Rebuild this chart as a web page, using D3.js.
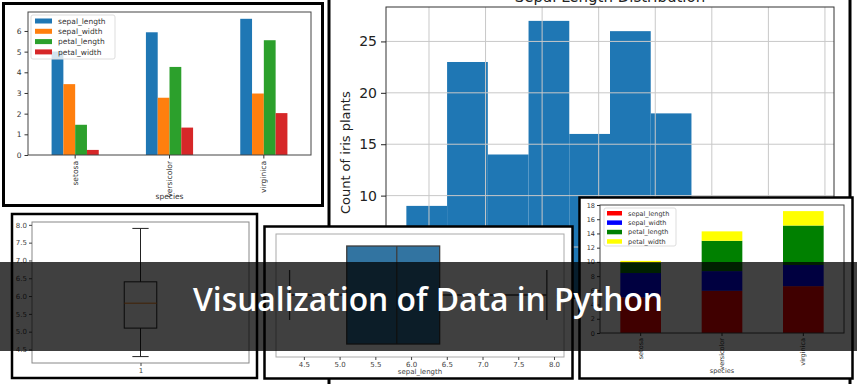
<!DOCTYPE html>
<html><head><meta charset="utf-8">
<script src="https://cdn.jsdelivr.net/npm/d3@7/dist/d3.min.js"></script>
<style>html,body{margin:0;padding:0;background:#fff;}svg{display:block;}</style>
</head><body>
<svg id="c" width="857" height="384"></svg>
<script>
// ---------- data ----------
const species = ["setosa", "versicolor", "virginica"];
const features = ["sepal_length", "sepal_width", "petal_length", "petal_width"];
const sepalLength = [5.006, 5.936, 6.588];
const sepalWidth = [3.428, 2.770, 2.974];
const petalLength = [1.462, 4.260, 5.552];
const petalWidth = [0.246, 1.326, 2.026];
const groupedTicks = [0, 1, 2, 3, 4, 5, 6];

const histTitle = "Sepal Length Distribution";
const histYLabel = "Count of iris plants";
const histEdges = [4.3, 4.66, 5.02, 5.38, 5.74, 6.1, 6.46, 6.82, 7.18, 7.54, 7.9];
const histCounts = [9, 23, 14, 27, 16, 26, 18, 6, 5, 6];
const histYTicks = [0, 5, 10, 15, 20, 25];
const histXTicks = [4.5, 5.0, 5.5, 6.0, 6.5, 7.0, 7.5, 8.0];

const boxStats = [4.3, 5.1, 5.8, 6.4, 7.9]; // min, q1, median, q3, max of sepal_length
const boxTicks = ["4.5", "5.0", "5.5", "6.0", "6.5", "7.0", "7.5", "8.0"];
const boxXLabel = "sepal_length";

const stackTicks = [0, 2, 4, 6, 8, 10, 12, 14, 16, 18];
const bannerText = "Visualization of Data in Python";

const tabColors = ["#1f77b4", "#ff7f0e", "#2ca02c", "#d62728"];
const stackColors = ["#ff0000", "#0000ff", "#008000", "#ffff00"];
const seriesValues = [sepalLength, sepalWidth, petalLength, petalWidth];

const svg = d3.select("#c");
const FONT = "DejaVu Sans, sans-serif";

function frame(x, y, w, h, sw) {
  svg.append("rect").attr("x", x).attr("y", y).attr("width", w).attr("height", h)
    .attr("fill", "#fff").attr("stroke", "#000").attr("stroke-width", sw);
}
function styleAxis(g, fs, col, dom) {
  g.selectAll("text").attr("font-family", FONT).attr("font-size", fs).attr("fill", col);
  g.selectAll("line").attr("stroke", col);
  if (!dom) g.select(".domain").remove();
}

// ---------- Panel 2: histogram (back) ----------
(function () {
  const L = 386, R = 834, T = 7, B = 298.4;
  frame(329, -10, 521, 400, 3);
  const x = d3.scaleLinear().domain([4.12, 8.08]).range([L, R]);
  const y = d3.scaleLinear().domain([0, 28.35]).range([B, T]);
  const g = svg.append("g");
  g.selectAll("rect.bar").data(histCounts).join("rect").attr("class", "bar")
    .attr("x", (d, i) => x(histEdges[i])).attr("width", (d, i) => x(histEdges[i + 1]) - x(histEdges[i]))
    .attr("y", d => y(d)).attr("height", d => B - y(d)).attr("fill", "#1f77b4");
  g.selectAll("line.gx").data(histXTicks).join("line").attr("class", "gx")
    .attr("x1", d => x(d)).attr("x2", d => x(d)).attr("y1", T).attr("y2", B)
    .attr("stroke", "#c8c8c8").attr("stroke-width", 1);
  g.selectAll("line.gy").data(histYTicks).join("line").attr("class", "gy")
    .attr("x1", L).attr("x2", R).attr("y1", d => y(d)).attr("y2", d => y(d))
    .attr("stroke", "#c8c8c8").attr("stroke-width", 1);
  g.append("rect").attr("x", L).attr("y", T).attr("width", R - L).attr("height", B - T)
    .attr("fill", "none").attr("stroke", "#333").attr("stroke-width", 1);
  const ay = g.append("g").attr("transform", `translate(${L},0)`)
    .call(d3.axisLeft(y).tickValues(histYTicks).tickSize(5).tickPadding(4));
  styleAxis(ay, 14, "#222");
  g.append("text").attr("x", 350).attr("y", (T + B) / 2).attr("transform", `rotate(-90,350,${(T + B) / 2})`)
    .attr("text-anchor", "middle").attr("font-family", FONT).attr("font-size", 13).attr("fill", "#222")
    .text(histYLabel);
  g.append("text").attr("x", (L + R) / 2).attr("y", 2).attr("text-anchor", "middle")
    .attr("font-family", FONT).attr("font-size", 15).attr("fill", "#222").text(histTitle);
})();

// ---------- Panel 1: grouped bar ----------
(function () {
  frame(3.5, 3.5, 319, 202, 3);
  const L = 28, R = 311, T = 12, B = 155;
  const x = d3.scaleBand().domain(species).range([L, R]);
  const xs = d3.scaleBand().domain(features).range([0, x.bandwidth() * 0.5]);
  const y = d3.scaleLinear().domain([0, 6.917]).range([B, T]);
  const g = svg.append("g");
  features.forEach((f, k) => {
    g.selectAll("rect.b" + k).data(seriesValues[k]).join("rect")
      .attr("x", (d, i) => x(species[i]) + x.bandwidth() * 0.25 + xs(f)).attr("width", xs.bandwidth())
      .attr("y", d => y(d)).attr("height", d => B - y(d)).attr("fill", tabColors[k]);
  });
  g.append("rect").attr("x", L).attr("y", T).attr("width", R - L).attr("height", B - T)
    .attr("fill", "none").attr("stroke", "#444").attr("stroke-width", 1);
  const ay = g.append("g").attr("transform", `translate(${L},0)`)
    .call(d3.axisLeft(y).tickValues(groupedTicks).tickFormat(d3.format("d")).tickSize(3.5).tickPadding(3));
  styleAxis(ay, 7.5, "#333");
  const ax = g.append("g").attr("transform", `translate(0,${B})`)
    .call(d3.axisBottom(x).tickSize(3.5).tickPadding(3));
  styleAxis(ax, 7.5, "#333");
  ax.selectAll(".tick text").attr("transform", "translate(0,6) rotate(-90)").attr("text-anchor", "end")
    .attr("x", 0).attr("y", 0).attr("dy", "0.32em").attr("dx", 0);
  g.append("text").attr("x", (L + R) / 2).attr("y", 199).attr("text-anchor", "middle")
    .attr("font-family", FONT).attr("font-size", 7.5).attr("fill", "#333").text("species");
  // legend
  const lg = g.append("g");
  lg.append("rect").attr("x", 31).attr("y", 15).attr("width", 84).attr("height", 44).attr("rx", 2)
    .attr("fill", "#fff").attr("fill-opacity", 0.8).attr("stroke", "#ddd");
  features.forEach((f, k) => {
    lg.append("rect").attr("x", 35).attr("y", 18.5 + k * 10.3).attr("width", 17).attr("height", 5).attr("fill", tabColors[k]);
    lg.append("text").attr("x", 58).attr("y", 21 + k * 10.3).attr("dy", "0.35em")
      .attr("font-family", FONT).attr("font-size", 7.5).attr("fill", "#333").text(f);
  });
})();

// ---------- Panel 3: vertical boxplot ----------
(function () {
  frame(12, 214, 245, 164, 2.5);
  const L = 32, R = 249, T = 222, B = 363;
  const y = d3.scaleLinear().domain([4.12, 8.08]).range([B, T]);
  const x = d3.scaleLinear().domain([0.5, 1.5]).range([L, R]);
  const g = svg.append("g");
  g.append("rect").attr("x", L).attr("y", T).attr("width", R - L).attr("height", B - T)
    .attr("fill", "none").attr("stroke", "#888").attr("stroke-width", 1);
  const cx = x(1), hw = x(1.075) - x(1), cw = hw / 2;
  g.append("line").attr("x1", cx).attr("x2", cx).attr("y1", y(boxStats[0])).attr("y2", y(boxStats[1])).attr("stroke", "#222");
  g.append("line").attr("x1", cx).attr("x2", cx).attr("y1", y(boxStats[3])).attr("y2", y(boxStats[4])).attr("stroke", "#222");
  [boxStats[0], boxStats[4]].forEach(v => g.append("line").attr("x1", cx - cw).attr("x2", cx + cw)
    .attr("y1", y(v)).attr("y2", y(v)).attr("stroke", "#222"));
  g.append("rect").attr("x", cx - hw).attr("width", 2 * hw).attr("y", y(boxStats[3]))
    .attr("height", y(boxStats[1]) - y(boxStats[3])).attr("fill", "none").attr("stroke", "#222");
  g.append("line").attr("x1", cx - hw).attr("x2", cx + hw).attr("y1", y(boxStats[2])).attr("y2", y(boxStats[2]))
    .attr("stroke", "#ff7f0e");
  const ay = g.append("g").attr("transform", `translate(${L},0)`)
    .call(d3.axisLeft(y).tickValues(boxTicks.map(Number)).tickFormat(d3.format(".1f")).tickSize(3).tickPadding(2));
  styleAxis(ay, 7, "#444");
  const ax = g.append("g").attr("transform", `translate(0,${B})`)
    .call(d3.axisBottom(x).tickValues([1]).tickFormat(d3.format("d")).tickSize(3).tickPadding(2));
  styleAxis(ax, 7, "#444");
})();

// ---------- Panel 4: horizontal boxplot (seaborn) ----------
(function () {
  frame(264.5, 226.5, 308, 152, 2.5);
  const L = 276, R = 564, T = 234, B = 357;
  const x = d3.scaleLinear().domain([4.11, 8.14]).range([L, R]);
  const g = svg.append("g");
  g.append("rect").attr("x", L).attr("y", T).attr("width", R - L).attr("height", B - T)
    .attr("fill", "none").attr("stroke", "#aaa").attr("stroke-width", 1);
  const cy = 295, hh = 49, ch = 25, ec = "#3d3d3d";
  g.append("line").attr("x1", x(boxStats[0])).attr("x2", x(boxStats[1])).attr("y1", cy).attr("y2", cy).attr("stroke", ec).attr("stroke-width", 1.3);
  g.append("line").attr("x1", x(boxStats[3])).attr("x2", x(boxStats[4])).attr("y1", cy).attr("y2", cy).attr("stroke", ec).attr("stroke-width", 1.3);
  [boxStats[0], boxStats[4]].forEach(v => g.append("line").attr("x1", x(v)).attr("x2", x(v))
    .attr("y1", cy - ch).attr("y2", cy + ch).attr("stroke", ec).attr("stroke-width", 1.3));
  g.append("rect").attr("x", x(boxStats[1])).attr("width", x(boxStats[3]) - x(boxStats[1]))
    .attr("y", cy - hh).attr("height", 2 * hh).attr("fill", "#3274a1").attr("stroke", ec).attr("stroke-width", 1.3);
  g.append("line").attr("x1", x(boxStats[2])).attr("x2", x(boxStats[2])).attr("y1", cy - hh).attr("y2", cy + hh)
    .attr("stroke", ec).attr("stroke-width", 1.3);
  const ax = g.append("g").attr("transform", `translate(0,${B})`)
    .call(d3.axisBottom(x).tickValues(boxTicks.map(Number)).tickFormat(d3.format(".1f")).tickSize(3).tickPadding(2));
  styleAxis(ax, 7, "#444");
  g.append("text").attr("x", (L + R) / 2).attr("y", 374).attr("text-anchor", "middle")
    .attr("font-family", FONT).attr("font-size", 7).attr("fill", "#444").text(boxXLabel);
})();

// ---------- Panel 5: stacked bar ----------
(function () {
  frame(579.5, 197.5, 273, 181, 2.5);
  const L = 600, R = 844, T = 205, B = 333;
  const x = d3.scaleBand().domain(species).range([L, R]);
  const y = d3.scaleLinear().domain([0, 18]).range([B, T]);
  const rows = species.map((s, i) => { const o = { species: s }; features.forEach((f, k) => o[f] = seriesValues[k][i]); return o; });
  const stack = d3.stack().keys(features)(rows);
  const g = svg.append("g");
  stack.forEach((layer, k) => {
    g.selectAll("rect.s" + k).data(layer).join("rect")
      .attr("x", d => x(d.data.species) + x.bandwidth() * 0.25).attr("width", x.bandwidth() * 0.5)
      .attr("y", d => y(d[1])).attr("height", d => y(d[0]) - y(d[1])).attr("fill", stackColors[k]);
  });
  g.append("rect").attr("x", L).attr("y", T).attr("width", R - L).attr("height", B - T)
    .attr("fill", "none").attr("stroke", "#444").attr("stroke-width", 1);
  const ay = g.append("g").attr("transform", `translate(${L},0)`)
    .call(d3.axisLeft(y).tickValues(stackTicks).tickSize(3).tickPadding(2));
  styleAxis(ay, 6.5, "#333");
  const ax = g.append("g").attr("transform", `translate(0,${B})`)
    .call(d3.axisBottom(x).tickSize(3).tickPadding(2));
  styleAxis(ax, 6.5, "#333");
  ax.selectAll(".tick text").attr("transform", "translate(0,5) rotate(-90)").attr("text-anchor", "end")
    .attr("x", 0).attr("y", 0).attr("dy", "0.32em");
  g.append("text").attr("x", (L + R) / 2).attr("y", 373).attr("text-anchor", "middle")
    .attr("font-family", FONT).attr("font-size", 6.5).attr("fill", "#333").text("species");
  const lg = g.append("g");
  lg.append("rect").attr("x", 604).attr("y", 208).attr("width", 72).attr("height", 38).attr("rx", 2)
    .attr("fill", "#fff").attr("stroke", "#ddd");
  features.forEach((f, k) => {
    lg.append("rect").attr("x", 607).attr("y", 211 + k * 9.4).attr("width", 15).attr("height", 4.5).attr("fill", stackColors[k]);
    lg.append("text").attr("x", 628).attr("y", 213.3 + k * 9.4).attr("dy", "0.35em")
      .attr("font-family", FONT).attr("font-size", 6.5).attr("fill", "#333").text(f);
  });
})();

// ---------- Banner overlay ----------
svg.append("rect").attr("x", 0).attr("y", 262).attr("width", 857).attr("height", 89)
  .attr("fill", "#000").attr("fill-opacity", 0.75);
svg.append("text").attr("x", 428).attr("y", 311).attr("text-anchor", "middle")
  .attr("font-family", "Open Sans, sans-serif").attr("font-weight", 600).attr("font-size", 33)
  .attr("fill", "#fff").attr("textLength", 470).attr("lengthAdjust", "spacingAndGlyphs").text(bannerText);
</script>
</body></html>
